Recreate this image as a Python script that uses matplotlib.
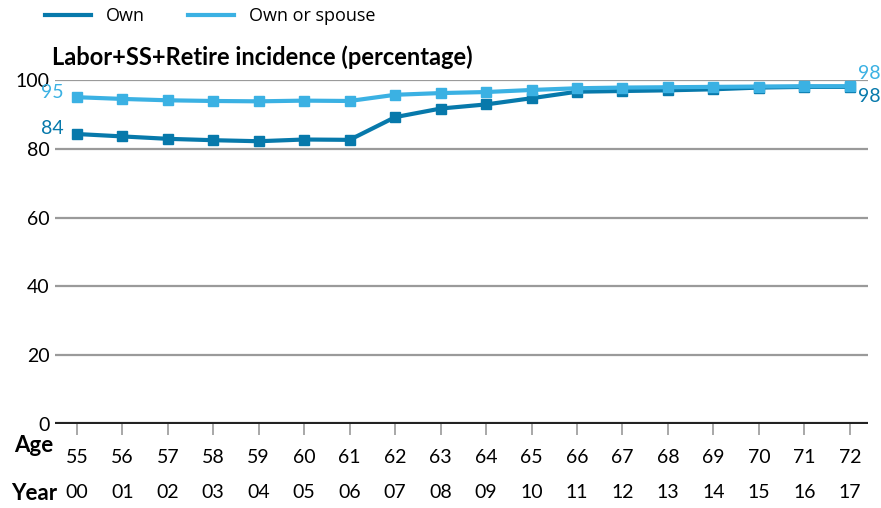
import numpy as np
import matplotlib.pyplot as plt
import matplotlib.transforms as mtransforms
from matplotlib.lines import Line2D

ages = [55, 56, 57, 58, 59, 60, 61, 62, 63, 64, 65, 66, 67, 68, 69, 70, 71, 72]
years = ['00', '01', '02', '03', '04', '05', '06', '07', '08', '09',
         '10', '11', '12', '13', '14', '15', '16', '17']
own = [84.3, 83.6, 82.9, 82.5, 82.2, 82.7, 82.6, 89.2, 91.7, 92.9,
       94.7, 96.6, 96.8, 97.0, 97.3, 97.8, 98.0, 98.0]
own_spouse = [95.0, 94.5, 94.1, 93.9, 93.8, 94.0, 93.9, 95.7, 96.2, 96.5,
              97.1, 97.6, 97.8, 97.9, 98.0, 98.1, 98.2, 98.2]

dark = '#0779ab'
light = '#3bb1e3'
font = ['Lato', 'DejaVu Sans']
plt.rcParams['font.family'] = font

fig = plt.figure(figsize=(8.81, 5.08), dpi=100)
ax = fig.add_axes([55 / 881, 84 / 508, 813 / 881, 344 / 508])

ax.set_xlim(54.52, 72.4)
ax.set_ylim(0, 100)
ax.set_yticks([0, 20, 40, 60, 80, 100])
for y in [20, 40, 60, 80, 100]:
    ax.axhline(y, color='#9a9a9a', lw=1.6, zorder=1)
ax.axhline(0, color='#222222', lw=3, zorder=3)

ax.plot(ages, own, color=dark, lw=3, marker='s', ms=7, zorder=4)
ax.plot(ages, own_spouse, color=light, lw=3, marker='s', ms=7, zorder=5)

for s in ax.spines.values():
    s.set_visible(False)
ax.tick_params(axis='y', length=0, labelsize=14, pad=4)
ax.set_xticks(ages)
ax.set_xticklabels([str(a) for a in ages])
ax.tick_params(axis='x', length=8, width=1.2, color='#9a9a9a', labelsize=14, pad=10)

# second row of x labels
tr = mtransforms.blended_transform_factory(ax.transData, fig.transFigure)
for a, yr in zip(ages, years):
    ax.text(a, 1 - 493 / 508, yr, transform=tr, ha='center', va='center', fontsize=14)
fig.text(34 / 881, 1 - 445 / 508, 'Age', ha='center', va='center', fontsize=16, fontweight='bold')
fig.text(34 / 881, 1 - 493 / 508, 'Year', ha='center', va='center', fontsize=16, fontweight='bold')

# data labels
ax.text(54.71, 85.8, '84', color=dark, ha='right', va='center', fontsize=14)
ax.text(54.71, 96.5, '95', color=light, ha='right', va='center', fontsize=14)
ax.text(72.18, 101.9, '98', color=light, ha='left', va='center', fontsize=14)
ax.text(72.18, 95.3, '98', color=dark, ha='left', va='center', fontsize=14)

fig.text(52 / 881, 1 - 57 / 508, 'Labor+SS+Retire incidence (percentage)',
         ha='left', va='center', fontsize=17, fontweight='bold')

handles = [Line2D([], [], color=dark, lw=3), Line2D([], [], color=light, lw=3)]
fig.legend(handles, ['Own', 'Own or spouse'], loc='center left',
           bbox_to_anchor=(29 / 881, 1 - 16 / 508), ncol=2, frameon=False,
           handlelength=2.55, columnspacing=2.4, handletextpad=0.8,
           prop={'family': ['Open Sans', 'DejaVu Sans'], 'size': 13})

fig.savefig('out.png', dpi=100)
